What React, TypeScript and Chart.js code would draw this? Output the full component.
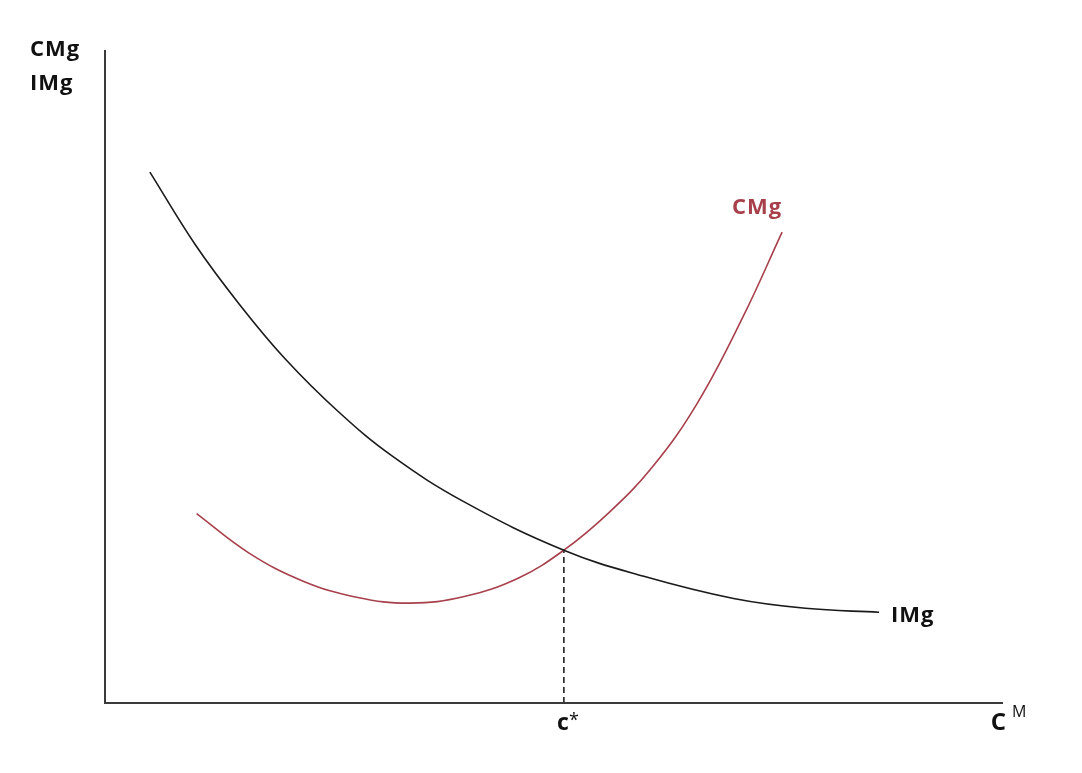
import React, { useEffect, useRef } from "react";
import { Chart, registerables } from "chart.js";

Chart.register(...registerables);

// Marginal revenue (IMg) curve (quantity, value)
const imgX = [5.0, 10.0, 15.0, 20.0, 26.0, 32.0, 40.0, 51.1, 60.0, 70.0, 78.0, 86.2];
const imgY = [81.3, 70.3, 61.0, 52.8, 44.6, 37.8, 30.8, 23.4, 19.4, 16.0, 14.5, 13.9];

// Marginal cost (CMg) curve
const cmgX = [10.2, 16.0, 22.0, 28.0, 34.0, 40.0, 46.0, 51.1, 56.0, 61.0, 66.0, 71.0, 75.4];
const cmgY = [29.0, 23.0, 18.7, 16.2, 15.3, 16.3, 19.1, 23.4, 29.0, 36.2, 46.0, 59.0, 72.1];

// Equilibrium quantity c*
const eqX = [51.1, 51.1];
const eqY = [0, 23.4];

const axisLabelsY = ["CMg", "IMg"];
const curveLabels = ["CMg", "IMg"];
const eqLabel = "c";
const xAxisLabel = "C";
const xAxisSup = "M";

const RED = "#a8404c";
const FONT = "'Open Sans', 'Noto Sans', sans-serif";

const toPts = (xs: number[], ys: number[]) => xs.map((x, i) => ({ x, y: ys[i] }));

const decorPlugin = {
  id: "decor",
  afterDraw(chart: any) {
    const { ctx, chartArea } = chart;
    const xs = chart.scales.x;
    ctx.save();
    // axes
    ctx.strokeStyle = "#3a3a3a";
    ctx.lineWidth = 2;
    ctx.beginPath();
    ctx.moveTo(chartArea.left, chartArea.top);
    ctx.lineTo(chartArea.left, chartArea.bottom);
    ctx.lineTo(chartArea.right, chartArea.bottom);
    ctx.stroke();

    ctx.textBaseline = "alphabetic";
    ctx.textAlign = "left";
    (ctx as any).letterSpacing = "1px";
    // y axis labels
    ctx.fillStyle = "#111";
    ctx.font = `bold 22px ${FONT}`;
    ctx.fillText(axisLabelsY[0], 30, 56);
    ctx.fillText(axisLabelsY[1], 30, 90);

    // CMg curve label
    ctx.fillStyle = RED;
    ctx.fillText(curveLabels[0], 732, 214);

    // IMg curve label
    ctx.fillStyle = "#111";
    ctx.fillText(curveLabels[1], 891, 622);
    (ctx as any).letterSpacing = "0px";

    // c* label
    const cx = xs.getPixelForValue(eqX[0]);
    ctx.font = `bold 23px ${FONT}`;
    ctx.textAlign = "right";
    ctx.fillText(eqLabel, cx + 5, 730);
    ctx.textAlign = "left";
    ctx.font = `18px ${FONT}`;
    ctx.fillText("*", cx + 5, 726);

    // C^M label
    ctx.font = `bold 24px ${FONT}`;
    ctx.textAlign = "right";
    ctx.fillText(xAxisLabel, chartArea.right + 3, 730);
    ctx.textAlign = "left";
    ctx.font = `16px ${FONT}`;
    ctx.fillText(xAxisSup, chartArea.right + 9, 717);
    ctx.restore();
  },
};

export default function App() {
  const ref = useRef<HTMLCanvasElement | null>(null);
  useEffect(() => {
    if (!ref.current) return;
    const chart = new Chart(ref.current, {
      type: "scatter",
      data: {
        datasets: [
          {
            label: "IMg",
            data: toPts(imgX, imgY),
            showLine: true,
            borderColor: "#1a1a1a",
            borderWidth: 1.6,
            pointRadius: 0,
            tension: 0.4,
          },
          {
            label: "CMg",
            data: toPts(cmgX, cmgY),
            showLine: true,
            borderColor: RED,
            borderWidth: 1.6,
            pointRadius: 0,
            tension: 0.4,
          },
          {
            label: "c*",
            data: toPts(eqX, eqY),
            showLine: true,
            borderColor: "#111",
            borderWidth: 1.5,
            borderDash: [6, 4],
            pointRadius: 0,
          },
        ],
      },
      options: {
        animation: false,
        responsive: true,
        maintainAspectRatio: false,
        layout: { padding: { left: 105, right: 79, top: 50, bottom: 70 } },
        plugins: { legend: { display: false }, tooltip: { enabled: false } },
        scales: {
          x: { type: "linear", min: 0, max: 100, display: false },
          y: { type: "linear", min: 0, max: 100, display: false },
        },
      },
      plugins: [decorPlugin],
    } as any);
    return () => chart.destroy();
  }, []);
  return (
    <div style={{ position: "absolute", left: 0, top: 0, width: 1082, height: 773, background: "#fff" }}>
      <canvas ref={ref} />
    </div>
  );
}
